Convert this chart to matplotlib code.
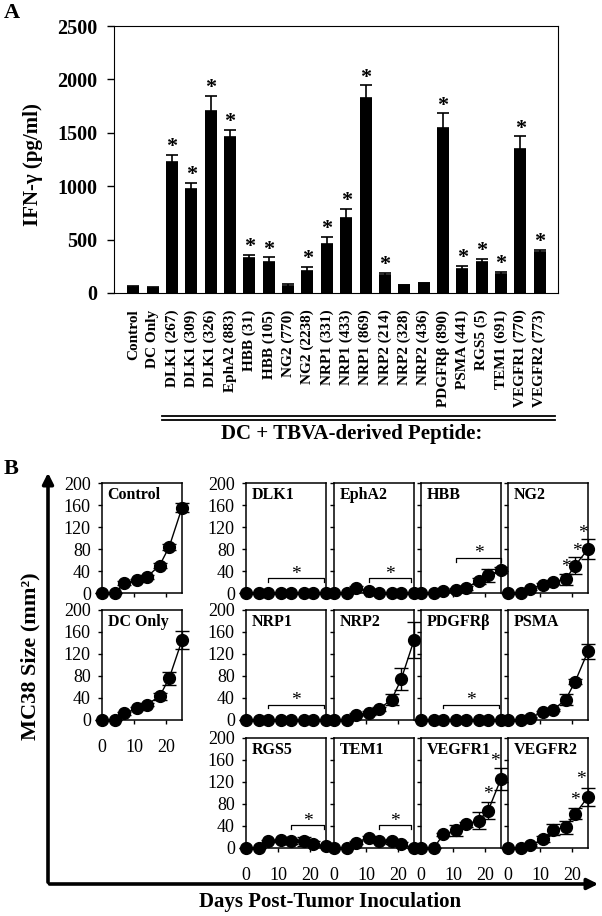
import numpy as np
import matplotlib.pyplot as plt
from matplotlib.lines import Line2D
from matplotlib.patches import FancyArrowPatch

plt.rcParams['font.family'] = ['Liberation Serif', 'DejaVu Serif']

# ---- panel A: IFN-gamma per peptide ----
peptides = ['Control', 'DC Only', 'DLK1 (267)', 'DLK1 (309)', 'DLK1 (326)',
            'EphA2 (883)', 'HBB (31)', 'HBB (105)', 'NG2 (770)', 'NG2 (2238)',
            'NRP1 (331)', 'NRP1 (433)', 'NRP1 (869)', 'NRP2 (214)', 'NRP2 (328)',
            'NRP2 (436)', 'PDGFRβ (890)', 'PSMA (441)', 'RGS5 (5)', 'TEM1 (691)',
            'VEGFR1 (770)', 'VEGFR2 (773)']
ifn_gamma = [60, 50, 1230, 975, 1700, 1460, 328, 288, 70, 206, 459, 703,
             1822, 166, 72, 91, 1547, 225, 288, 181, 1350, 381]
ifn_err = [3, 3, 63, 56, 147, 69, 31, 49, 15, 38, 66, 85,
           122, 22, 4, 4, 137, 31, 34, 16, 119, 25]
ifn_sig = [0, 0, 1, 1, 1, 1, 1, 1, 0, 1, 1, 1, 1, 1, 0, 0, 1, 1, 1, 1, 1, 1]

# ---- panel B: tumour growth ----
days = [0, 4, 7, 11, 14, 18, 21, 25]
control = [0, 0, 18, 23, 29, 50, 84, 155]
control_err = [0, 0, 3, 3, 4, 5, 6, 8]
dc_only = [0, 0, 12, 21, 28, 43, 76, 145]
dc_only_err = [0, 0, 2, 3, 3, 6, 12, 16]
dlk1 = [0, 0, 0, 0, 0, 0, 0, 0]
epha2 = [0, 0, 9, 4, 0, 0, 0, 0]
epha2_err = [0, 0, 3, 3, 0, 0, 0, 0]
hbb = [0, 0, 4, 6, 9, 22, 32, 42]
hbb_err = [0, 0, 2, 3, 3, 5, 12, 5]
ng2 = [0, 0, 8, 15, 20, 25, 50, 80]
ng2_err = [0, 0, 2, 3, 3, 10, 15, 18]
nrp1 = [0, 0, 0, 0, 0, 0, 0, 0]
nrp2 = [0, 0, 10, 13, 20, 37, 74, 145]
nrp2_err = [0, 0, 2, 3, 3, 10, 20, 33]
pdgfrb = [0, 0, 0, 0, 0, 0, 0, 0]
psma = [0, 0, 4, 15, 18, 37, 70, 125]
psma_err = [0, 0, 1, 2, 2, 10, 5, 14]
rgs5 = [0, 0, 13, 14, 12, 12, 8, 3]
rgs5_err = [0, 0, 2, 3, 5, 8, 5, 2]
tem1 = [0, 0, 10, 19, 12, 12, 7, 0]
tem1_err = [0, 0, 2, 3, 3, 5, 4, 0]
vegfr1 = [0, 0, 25, 32, 43, 50, 68, 126]
vegfr1_err = [0, 0, 3, 10, 5, 15, 15, 20]
vegfr2 = [0, 0, 5, 16, 33, 38, 62, 93]
vegfr2_err = [0, 0, 2, 5, 10, 12, 10, 16]
zeros = [0, 0, 0, 0, 0, 0, 0, 0]

# significance marks: brackets (start day, end day, height) and single stars (day, height)
dlk1_bracket = (7, 24.5, 27)
epha2_bracket = (11, 24, 27)
hbb_bracket = (11, 25, 64)
nrp1_bracket = (7, 24.5, 28)
pdgfrb_bracket = (7, 24.5, 28)
rgs5_bracket = (14, 24.5, 41)
tem1_bracket = (14, 24, 41)
ng2_stars = ([18, 21.5, 23.5], [47, 75, 108])
vegfr1_stars = ([20.8, 23], [97, 158])
vegfr2_stars = ([21, 22.7], [86, 124])

W, H = 602, 916


def box(left, top, w, h):
    return [left / W, 1 - (top + h) / H, w / W, h / H]


fig = plt.figure(figsize=(W / 100, H / 100), dpi=100)

# ------------------ A ------------------
ax = fig.add_axes(box(114, 26, 444, 267))
x = np.arange(len(peptides))
ax.bar(x, ifn_gamma, width=0.62, color='black')
ax.errorbar(x, ifn_gamma, yerr=[np.zeros(len(x)), ifn_err], fmt='none',
            ecolor='black', elinewidth=1.2, capsize=4, capthick=1.2)
for xi, v, e, s in zip(x, ifn_gamma, ifn_err, ifn_sig):
    if s:
        ax.text(xi, v + e + 70, '*', ha='center', va='center',
                fontsize=16, fontweight='bold')
ax.set_xlim(-1.0, 21.95)
ax.set_ylim(0, 2500)
ax.set_yticks(range(0, 2501, 500))
ax.set_xticks(x)
ax.set_xticklabels(peptides, rotation=90, fontweight='bold', fontsize=11)
ax.tick_params(axis='x', length=0, pad=12)
ax.tick_params(axis='y', direction='out', length=5, width=1, pad=7, labelsize=14.5)
for lab in ax.get_yticklabels():
    lab.set_fontweight('bold')

fig.text(33 / W, 1 - 165 / H, 'IFN-γ (pg/ml)', rotation=90, ha='center',
         va='center', fontsize=15, fontweight='bold')
fig.text(4 / W, 1 - 13 / H, 'A', fontsize=16, fontweight='bold', va='center')

for yy in (416, 419.5):
    fig.add_artist(Line2D([162 / W, 555 / W], [1 - yy / H] * 2, color='black', lw=1.3))
fig.text(352 / W, 1 - 434 / H, 'DC + TBVA-derived Peptide:', ha='center',
         va='center', fontsize=15, fontweight='bold')

# ------------------ B ------------------
panels = [
    (0, 0, 'Control', control, control_err, None, None),
    (1, 0, 'DC Only', dc_only, dc_only_err, None, None),
    (0, 1, 'DLK1', dlk1, zeros, dlk1_bracket, None),
    (0, 2, 'EphA2', epha2, epha2_err, epha2_bracket, None),
    (0, 3, 'HBB', hbb, hbb_err, hbb_bracket, None),
    (0, 4, 'NG2', ng2, ng2_err, None, ng2_stars),
    (1, 1, 'NRP1', nrp1, zeros, nrp1_bracket, None),
    (1, 2, 'NRP2', nrp2, nrp2_err, None, None),
    (1, 3, 'PDGFRβ', pdgfrb, zeros, pdgfrb_bracket, None),
    (1, 4, 'PSMA', psma, psma_err, None, None),
    (2, 1, 'RGS5', rgs5, rgs5_err, rgs5_bracket, None),
    (2, 2, 'TEM1', tem1, tem1_err, tem1_bracket, None),
    (2, 3, 'VEGFR1', vegfr1, vegfr1_err, None, vegfr1_stars),
    (2, 4, 'VEGFR2', vegfr2, vegfr2_err, None, vegfr2_stars),
]
col_left = [102, 246, 334, 421, 508]
row_top = [483, 610, 738]

for row, col, name, vals, errs, bracket, stars in panels:
    ax = fig.add_axes(box(col_left[col], row_top[row], 80, 110))
    ax.errorbar(days, vals, yerr=errs, color='black', lw=1, marker='o',
                markersize=8.5, ecolor='black', elinewidth=1, capsize=5,
                clip_on=False, zorder=3)
    ax.set_xlim(0, 25)
    ax.set_ylim(0, 200)
    ax.set_yticks(range(0, 201, 40))
    ax.set_xticks([0, 10, 20])
    ax.tick_params(direction='out', length=3, width=1, labelsize=13)
    ax.tick_params(axis='y', pad=5)
    ax.tick_params(axis='x', pad=11)
    if col > 1:
        ax.set_yticklabels([])
    if not (row == 2 or (row == 1 and col == 0)):
        ax.set_xticklabels([])
    for sp in ax.spines.values():
        sp.set_linewidth(1.1)
    ax.text(0.07, 0.965, name, transform=ax.transAxes, ha='left', va='top',
            fontsize=11.5, fontweight='bold')
    if bracket is not None:
        x0, x1, yb = bracket
        ax.plot([x0, x0, x1, x1], [yb - 7, yb, yb, yb - 7], color='black',
                lw=0.9, clip_on=False)
        ax.text((x0 + x1) / 2, yb + 7, '*', ha='center', va='center', fontsize=14)
    if stars is not None:
        for sx, sy in zip(*stars):
            ax.text(sx, sy, '*', ha='center', va='center', fontsize=14,
                    clip_on=False)

fig.text(4 / W, 1 - 469 / H, 'B', fontsize=16, fontweight='bold', va='center')
fig.text(30 / W, 1 - 656 / H, 'MC38 Size (mm²)', rotation=90, ha='center',
         va='center', fontsize=16, fontweight='bold')
fig.text(330 / W, 1 - 902 / H, 'Days Post-Tumor Inoculation', ha='center',
         va='center', fontsize=15, fontweight='bold')

fig.add_artist(FancyArrowPatch((48 / W, 1 - 885 / H), (48 / W, 1 - 470 / H),
                               transform=fig.transFigure, arrowstyle='-|>',
                               mutation_scale=16, lw=2.6, color='black'))
fig.add_artist(FancyArrowPatch((46.7 / W, 1 - 884 / H), (601 / W, 1 - 884 / H),
                               transform=fig.transFigure, arrowstyle='-|>',
                               mutation_scale=16, lw=2.6, color='black'))

fig.savefig('out.png', dpi=100)
